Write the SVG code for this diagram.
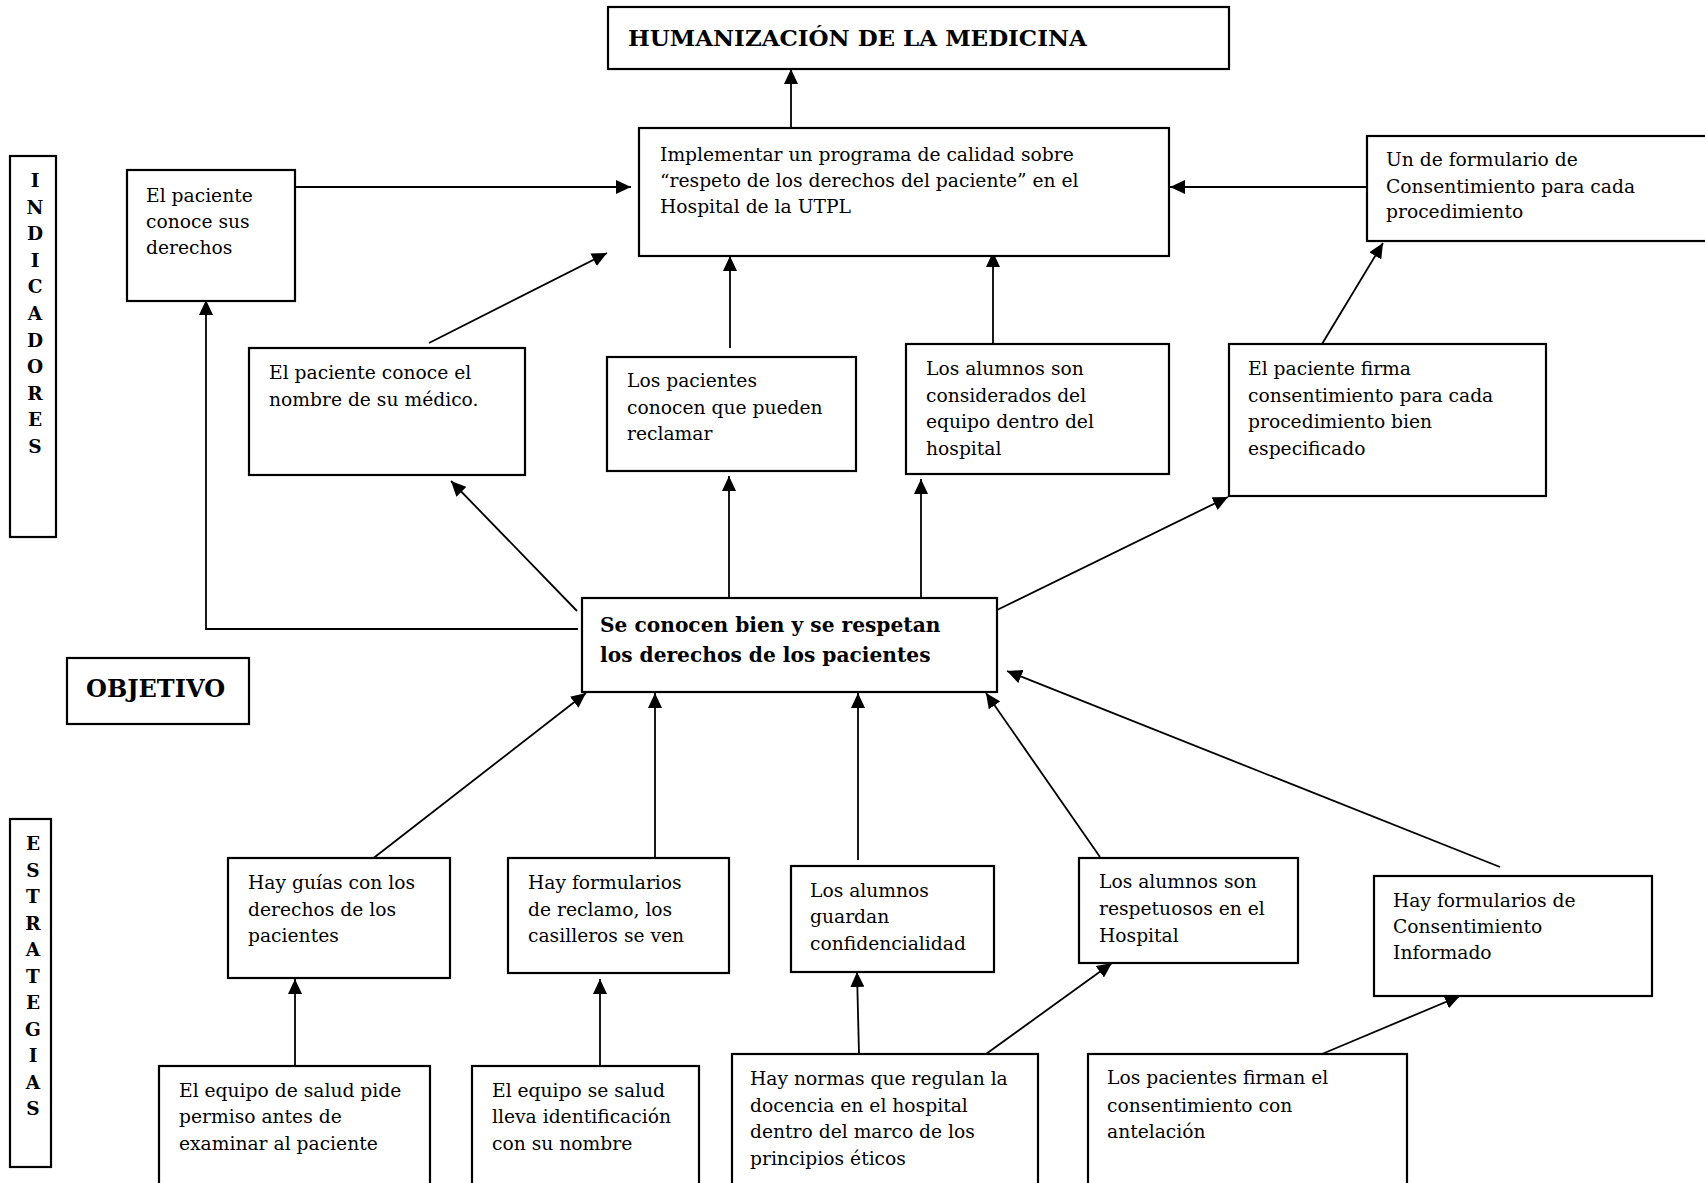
<svg xmlns="http://www.w3.org/2000/svg" width="1705" height="1183" viewBox="0 0 1705 1183">
<defs>
<marker id="ah" markerUnits="userSpaceOnUse" markerWidth="16" markerHeight="14" refX="15" refY="7" orient="auto">
<path d="M0,0 L15,7 L0,14 z" fill="#000"/>
</marker>
<style>
.box{fill:#fff;stroke:#000;stroke-width:2.2}
.t{font-family:"DejaVu Serif","Liberation Serif",serif;font-size:18.7px;fill:#000}
.b{font-family:"DejaVu Serif","Liberation Serif",serif;font-weight:bold;fill:#000}
.c{fill:none;stroke:#000;stroke-width:1.8}
.v{font-family:"DejaVu Serif","Liberation Serif",serif;font-weight:bold;font-size:18.5px;text-anchor:middle;fill:#000}
</style>
</defs>
<rect width="1705" height="1183" fill="#fff"/>

<g id="connectors">
<line class="c" x1="791" y1="132" x2="791" y2="69" marker-end="url(#ah)"/>
<line class="c" x1="295" y1="187" x2="631" y2="187" marker-end="url(#ah)"/>
<line class="c" x1="1367" y1="187" x2="1170" y2="187" marker-end="url(#ah)"/>
<line class="c" x1="429" y1="343" x2="607" y2="253" marker-end="url(#ah)"/>
<line class="c" x1="730" y1="348" x2="730" y2="256" marker-end="url(#ah)"/>
<line class="c" x1="993" y1="343" x2="993" y2="252" marker-end="url(#ah)"/>
<line class="c" x1="1322" y1="344" x2="1383" y2="243" marker-end="url(#ah)"/>
<polyline class="c" points="578,629 206,629 206,300" marker-end="url(#ah)"/>
<line class="c" x1="577" y1="611" x2="451" y2="481" marker-end="url(#ah)"/>
<line class="c" x1="729" y1="612" x2="729" y2="476" marker-end="url(#ah)"/>
<line class="c" x1="921" y1="615" x2="921" y2="479" marker-end="url(#ah)"/>
<line class="c" x1="997" y1="610" x2="1228" y2="497" marker-end="url(#ah)"/>
<line class="c" x1="362" y1="867" x2="586" y2="693" marker-end="url(#ah)"/>
<line class="c" x1="655" y1="858" x2="655" y2="693" marker-end="url(#ah)"/>
<line class="c" x1="858" y1="860" x2="858" y2="693" marker-end="url(#ah)"/>
<line class="c" x1="1100" y1="857" x2="986" y2="693" marker-end="url(#ah)"/>
<line class="c" x1="1500" y1="867" x2="1007" y2="671" marker-end="url(#ah)"/>
<line class="c" x1="295" y1="1066" x2="295" y2="979" marker-end="url(#ah)"/>
<line class="c" x1="600" y1="1066" x2="600" y2="979" marker-end="url(#ah)"/>
<line class="c" x1="859" y1="1054" x2="857" y2="972" marker-end="url(#ah)"/>
<line class="c" x1="986" y1="1054" x2="1112" y2="963" marker-end="url(#ah)"/>
<line class="c" x1="1322" y1="1054" x2="1460" y2="996" marker-end="url(#ah)"/>
</g>

<g id="title">
<rect class="box" x="608" y="7" width="621" height="62"/>
<text class="b" x="628" y="46" font-size="23">HUMANIZACIÓN DE LA MEDICINA</text>
</g>

<g id="indicadores">
<rect class="box" x="10" y="156" width="46" height="381"/>
<text class="v" x="35" y="187">I</text>
<text class="v" x="35" y="213.6">N</text>
<text class="v" x="35" y="240.2">D</text>
<text class="v" x="35" y="266.8">I</text>
<text class="v" x="35" y="293.4">C</text>
<text class="v" x="35" y="320">A</text>
<text class="v" x="35" y="346.6">D</text>
<text class="v" x="35" y="373.2">O</text>
<text class="v" x="35" y="399.8">R</text>
<text class="v" x="35" y="426.4">E</text>
<text class="v" x="35" y="453">S</text>
</g>

<g id="estrategias">
<rect class="box" x="10" y="819" width="41" height="348"/>
<text class="v" x="33" y="850">E</text>
<text class="v" x="33" y="876.5">S</text>
<text class="v" x="33" y="903">T</text>
<text class="v" x="33" y="929.5">R</text>
<text class="v" x="33" y="956">A</text>
<text class="v" x="33" y="982.5">T</text>
<text class="v" x="33" y="1009">E</text>
<text class="v" x="33" y="1035.5">G</text>
<text class="v" x="33" y="1062">I</text>
<text class="v" x="33" y="1088.5">A</text>
<text class="v" x="33" y="1115">S</text>
</g>

<g id="implementar">
<rect class="box" x="639" y="128" width="530" height="128"/>
<text class="t" x="660" y="160.5">Implementar un programa de calidad sobre</text>
<text class="t" x="660" y="187">“respeto de los derechos del paciente” en el</text>
<text class="t" x="660" y="213">Hospital de la UTPL</text>
</g>

<g id="conoce-derechos">
<rect class="box" x="127" y="170" width="168" height="131"/>
<text class="t" x="146" y="202">El paciente</text>
<text class="t" x="146" y="228">conoce sus</text>
<text class="t" x="146" y="254">derechos</text>
</g>

<g id="formulario-consentimiento">
<rect class="box" x="1367" y="136" width="350" height="105"/>
<text class="t" x="1386" y="166">Un de formulario de</text>
<text class="t" x="1386" y="193">Consentimiento para cada</text>
<text class="t" x="1386" y="218">procedimiento</text>
</g>

<g id="nombre-medico">
<rect class="box" x="249" y="348" width="276" height="127"/>
<text class="t" x="269" y="379">El paciente conoce el</text>
<text class="t" x="269" y="406">nombre de su médico.</text>
</g>

<g id="pueden-reclamar">
<rect class="box" x="607" y="357" width="249" height="114"/>
<text class="t" x="627" y="387">Los pacientes</text>
<text class="t" x="627" y="414">conocen que pueden</text>
<text class="t" x="627" y="440">reclamar</text>
</g>

<g id="alumnos-equipo">
<rect class="box" x="906" y="344" width="263" height="130"/>
<text class="t" x="926" y="375">Los alumnos son</text>
<text class="t" x="926" y="402">considerados del</text>
<text class="t" x="926" y="428">equipo dentro del</text>
<text class="t" x="926" y="455">hospital</text>
</g>

<g id="firma-consentimiento">
<rect class="box" x="1229" y="344" width="317" height="152"/>
<text class="t" x="1248" y="375">El paciente firma</text>
<text class="t" x="1248" y="402">consentimiento para cada</text>
<text class="t" x="1248" y="428">procedimiento bien</text>
<text class="t" x="1248" y="455">especificado</text>
</g>

<g id="objetivo-central">
<rect class="box" x="582" y="598" width="415" height="94"/>
<text class="b" x="600" y="632" font-size="20.2">Se conocen bien y se respetan</text>
<text class="b" x="600" y="662" font-size="20.2">los derechos de los pacientes</text>
</g>

<g id="objetivo-label">
<rect class="box" x="67" y="658" width="182" height="66"/>
<text class="b" x="86" y="697" font-size="24">OBJETIVO</text>
</g>

<g id="guias">
<rect class="box" x="228" y="858" width="222" height="120"/>
<text class="t" x="248" y="889">Hay guías con los</text>
<text class="t" x="248" y="916">derechos de los</text>
<text class="t" x="248" y="942">pacientes</text>
</g>

<g id="formularios-reclamo">
<rect class="box" x="508" y="858" width="221" height="115"/>
<text class="t" x="528" y="889">Hay formularios</text>
<text class="t" x="528" y="916">de reclamo, los</text>
<text class="t" x="528" y="942">casilleros se ven</text>
</g>

<g id="confidencialidad">
<rect class="box" x="791" y="866" width="203" height="106"/>
<text class="t" x="810" y="897">Los alumnos</text>
<text class="t" x="810" y="923">guardan</text>
<text class="t" x="810" y="950">confidencialidad</text>
</g>

<g id="respetuosos">
<rect class="box" x="1079" y="858" width="219" height="105"/>
<text class="t" x="1099" y="888">Los alumnos son</text>
<text class="t" x="1099" y="915">respetuosos en el</text>
<text class="t" x="1099" y="942">Hospital</text>
</g>

<g id="consentimiento-informado">
<rect class="box" x="1374" y="876" width="278" height="120"/>
<text class="t" x="1393" y="907">Hay formularios de</text>
<text class="t" x="1393" y="933">Consentimiento</text>
<text class="t" x="1393" y="959">Informado</text>
</g>

<g id="pide-permiso">
<rect class="box" x="159" y="1066" width="271" height="140"/>
<text class="t" x="179" y="1097">El equipo de salud pide</text>
<text class="t" x="179" y="1123">permiso antes de</text>
<text class="t" x="179" y="1150">examinar al paciente</text>
</g>

<g id="identificacion">
<rect class="box" x="472" y="1066" width="227" height="140"/>
<text class="t" x="492" y="1097">El equipo se salud</text>
<text class="t" x="492" y="1123">lleva identificación</text>
<text class="t" x="492" y="1150">con su nombre</text>
</g>

<g id="normas">
<rect class="box" x="732" y="1054" width="306" height="150"/>
<text class="t" x="750" y="1085">Hay normas que regulan la</text>
<text class="t" x="750" y="1112">docencia en el hospital</text>
<text class="t" x="750" y="1138">dentro del marco de los</text>
<text class="t" x="750" y="1165">principios éticos</text>
</g>

<g id="firman-antelacion">
<rect class="box" x="1088" y="1054" width="319" height="150"/>
<text class="t" x="1107" y="1084">Los pacientes firman el</text>
<text class="t" x="1107" y="1112">consentimiento con</text>
<text class="t" x="1107" y="1138">antelación</text>
</g>
</svg>
